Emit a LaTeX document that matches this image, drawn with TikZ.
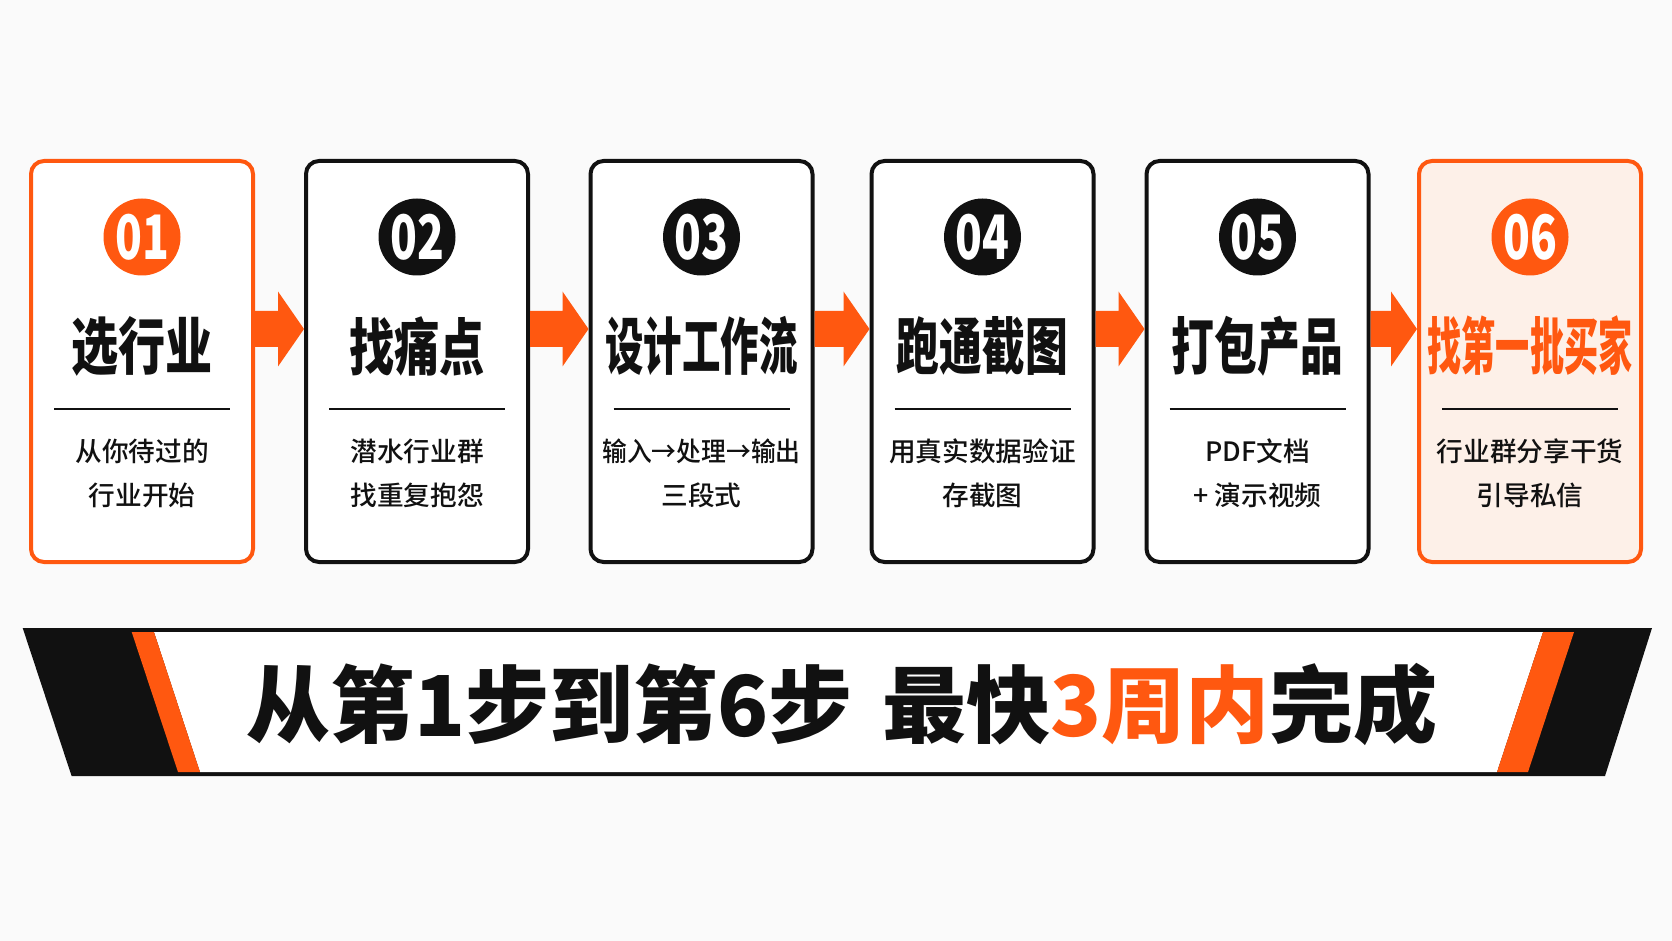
\documentclass[tikz,border=0pt]{standalone}
\usepackage{fontspec}
\usetikzlibrary{calc}
\setmainfont{Noto Sans CJK SC}
\IfFontExistsTF{Noto Sans CJK SC Black}
  {\newfontfamily\heavyfont{Noto Sans CJK SC Black}}
  {\newfontfamily\heavyfont{Noto Sans CJK SC Bold}}
\IfFontExistsTF{Noto Sans CJK SC Medium}
  {\newfontfamily\medfont{Noto Sans CJK SC Medium}}
  {\newfontfamily\medfont{Noto Sans CJK SC}}

\definecolor{accent}{RGB}{255,88,16}
\definecolor{ink}{RGB}{17,17,17}
\definecolor{peach}{RGB}{253,240,232}
\definecolor{paper}{RGB}{250,250,250}

\tikzset{every picture/.style={line width=0.75pt},
  stepbox/.style={draw=ink, line width=3pt, rounded corners=9.75pt, fill=white,
    minimum width=166.5pt, minimum height=300.75pt, inner sep=0pt},
  hotbox/.style={stepbox, draw=accent},
  numdot/.style={circle, fill=ink, minimum size=57.75pt, inner sep=0pt, text=white,
    font=\heavyfont\fontsize{46}{46}\selectfont},
  hotdot/.style={numdot, fill=accent},
  steptitle/.style={inner sep=0pt, text=ink, font=\heavyfont\fontsize{46.5}{50}\selectfont},
  stepnote/.style={inner sep=0pt, text=ink, align=center, font=\medfont\fontsize{20}{33}\selectfont},
  divider/.style={draw=ink, line width=1.5pt},
  flowarrow/.style={fill=accent}
}

\begin{document}
\begin{tikzpicture}[x=0.75pt,y=0.75pt,yscale=-1,xscale=1]
%page 1672 x 941
\fill [paper] (0,0) rectangle (1672,941);

%Rounded Rect: steps
\node [hotbox] (s1) at (142,361.5) {};
\node [stepbox] (s2) at (417,361.5) {};
\node [stepbox] (s3) at (701.5,361.5) {};
\node [stepbox] (s4) at (982.5,361.5) {};
\node [stepbox] (s5) at (1257.5,361.5) {};
\node [hotbox, fill=peach] (s6) at (1530,361.5) {};

%Shape: Circle numbers
\node [hotdot] (n1) at (142,237) {\scalebox{0.72}[1]{01}};
\node [numdot] (n2) at (417,237) {\scalebox{0.72}[1]{02}};
\node [numdot] (n3) at (701.5,237) {\scalebox{0.72}[1]{03}};
\node [numdot] (n4) at (982.5,237) {\scalebox{0.72}[1]{04}};
\node [numdot] (n5) at (1257.5,237) {\scalebox{0.72}[1]{05}};
\node [hotdot] (n6) at (1530,237) {\scalebox{0.72}[1]{06}};

% Text Node
\node [steptitle] (t1) at (142,346) {\scalebox{0.76}[1]{选行业}};
% Text Node
\node [steptitle] (t2) at (417,346) {\scalebox{0.73}[1]{找痛点}};
% Text Node
\node [steptitle] (t3) at (701.5,346) {\scalebox{0.62}[1]{设计工作流}};
% Text Node
\node [steptitle] (t4) at (982.5,346) {\scalebox{0.69}[1]{跑通截图}};
% Text Node
\node [steptitle] (t5) at (1257.5,346) {\scalebox{0.69}[1]{打包产品}};
% Text Node
\node [steptitle, text=accent] (t6) at (1530,346) {\scalebox{0.55}[1]{找第一批买家}};

%Straight Lines under the titles
\draw [divider] ($(s1.west)+(25,47.5)$) -- ($(s1.east)+(-25,47.5)$);
\draw [divider] ($(s2.west)+(25,47.5)$) -- ($(s2.east)+(-25,47.5)$);
\draw [divider] ($(s3.west)+(25,47.5)$) -- ($(s3.east)+(-25,47.5)$);
\draw [divider] ($(s4.west)+(25,47.5)$) -- ($(s4.east)+(-25,47.5)$);
\draw [divider] ($(s5.west)+(25,47.5)$) -- ($(s5.east)+(-25,47.5)$);
\draw [divider] ($(s6.west)+(25,47.5)$) -- ($(s6.east)+(-25,47.5)$);

% Text Node
\node [stepnote] (d1) at (142,473) {从你待过的\\行业开始};
% Text Node
\node [stepnote] (d2) at (417,473) {潜水行业群\\找重复抱怨};
% Text Node
\node [stepnote] (d3) at (701.5,473) {\scalebox{0.93}[1]{输入→处理→输出}\\三段式};
% Text Node
\node [stepnote] (d4) at (982.5,473) {用真实数据验证\\存截图};
% Text Node
\node [stepnote] (d5) at (1257.5,473) {PDF文档\\+ 演示视频};
% Text Node
\node [stepnote] (d6) at (1530,473) {行业群分享干货\\引导私信};

%Right Arrows between the steps
\coordinate (lane) at (0,329);
\fill [flowarrow] ($(s1.east |- lane)+(0,-18)$) -- ($(s2.west |- lane)+(-26,-18)$) -- ($(s2.west |- lane)+(-26,-37.5)$) -- (s2.west |- lane) -- ($(s2.west |- lane)+(-26,37.5)$) -- ($(s2.west |- lane)+(-26,18)$) -- ($(s1.east |- lane)+(0,18)$) -- cycle ;
\fill [flowarrow] ($(s2.east |- lane)+(0,-18)$) -- ($(s3.west |- lane)+(-26,-18)$) -- ($(s3.west |- lane)+(-26,-37.5)$) -- (s3.west |- lane) -- ($(s3.west |- lane)+(-26,37.5)$) -- ($(s3.west |- lane)+(-26,18)$) -- ($(s2.east |- lane)+(0,18)$) -- cycle ;
\fill [flowarrow] ($(s3.east |- lane)+(0,-18)$) -- ($(s4.west |- lane)+(-26,-18)$) -- ($(s4.west |- lane)+(-26,-37.5)$) -- (s4.west |- lane) -- ($(s4.west |- lane)+(-26,37.5)$) -- ($(s4.west |- lane)+(-26,18)$) -- ($(s3.east |- lane)+(0,18)$) -- cycle ;
\fill [flowarrow] ($(s4.east |- lane)+(0,-18)$) -- ($(s5.west |- lane)+(-26,-18)$) -- ($(s5.west |- lane)+(-26,-37.5)$) -- (s5.west |- lane) -- ($(s5.west |- lane)+(-26,37.5)$) -- ($(s5.west |- lane)+(-26,18)$) -- ($(s4.east |- lane)+(0,18)$) -- cycle ;
\fill [flowarrow] ($(s5.east |- lane)+(0,-18)$) -- ($(s6.west |- lane)+(-26,-18)$) -- ($(s6.west |- lane)+(-26,-37.5)$) -- (s6.west |- lane) -- ($(s6.west |- lane)+(-26,37.5)$) -- ($(s6.west |- lane)+(-26,18)$) -- ($(s5.east |- lane)+(0,18)$) -- cycle ;

%Banner: black band
\fill [ink] (22.7,628) -- (1652,628) -- (1605,776) -- (71.6,776) -- cycle ;
%Banner: white panel
\fill [white] (154,632) -- (1543,632) -- (1497,772) -- (200,772) -- cycle ;
%Banner: orange stripes
\fill [accent] (131.7,632) -- (154,632) -- (200,772) -- (178,772) -- cycle ;
\fill [accent] (1543,632) -- (1574,632) -- (1528,772) -- (1497,772) -- cycle ;

% Text Node
\node [inner sep=0pt, text=ink, font=\heavyfont\fontsize{63}{63}\selectfont] (slogan) at (842,704) {从第1步到第6步\hspace{0.35em}最快\textcolor{accent}{3周内}完成};

\end{tikzpicture}
\end{document}
